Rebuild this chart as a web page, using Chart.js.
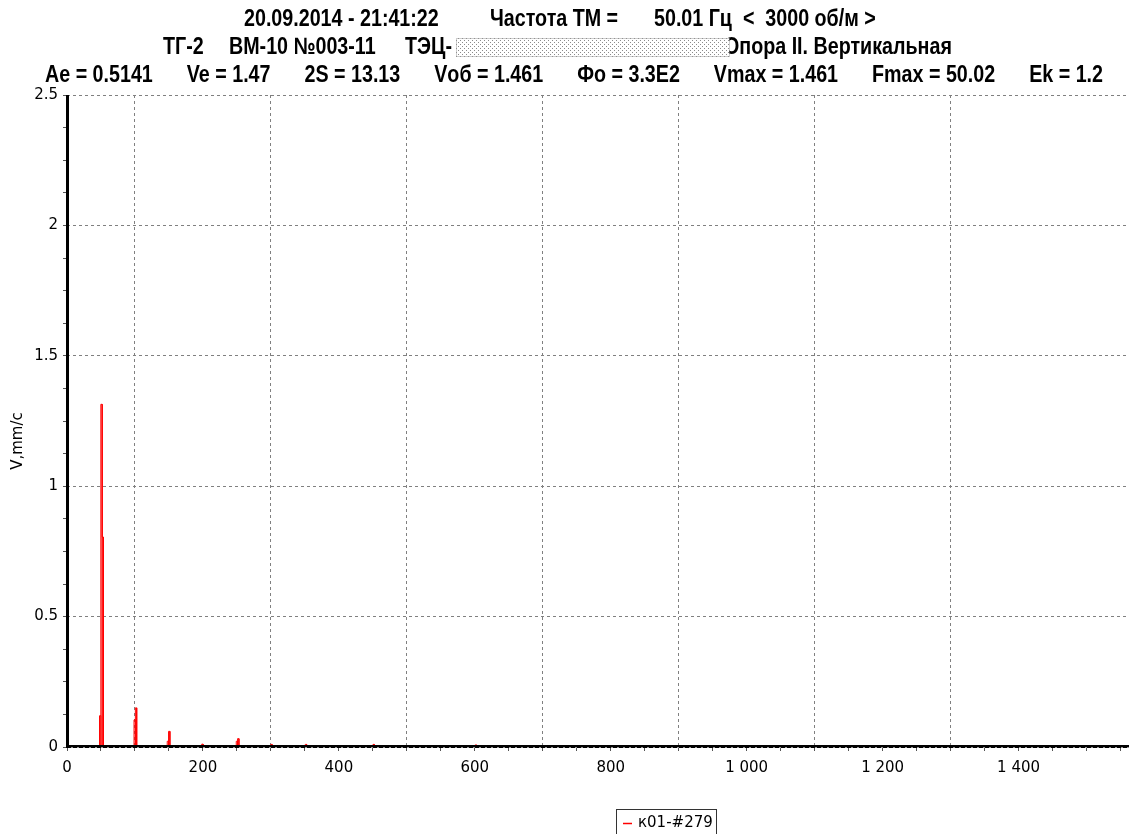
<!DOCTYPE html>
<html>
<head>
<meta charset="utf-8">
<script src="https://cdn.jsdelivr.net/npm/chart.js@4.4.1/dist/chart.umd.min.js"></script>
<style>
  html, body { margin: 0; padding: 0; background: #fff; overflow: hidden; }
  #wrap { position: relative; width: 1129px; height: 834px; }
</style>
</head>
<body>
<div id="wrap"><canvas id="spectrum" width="1129" height="834"></canvas></div>
<script>
// ---- header texts ----
const headerLine1 = ['20.09.2014 - 21:41:22', 'Частота ТМ =', '50.01 Гц  <  3000 об/м >'];
const headerLine2 = ['ТГ-2', 'ВМ-10 №003-11', 'ТЭЦ-', 'Опора II. Вертикальная'];
const headerLine3 = ['Ae = 0.5141', 'Ve = 1.47', '2S = 13.13', 'Vоб = 1.461', 'Фо = 3.3E2', 'Vmax = 1.461', 'Fmax = 50.02', 'Ek = 1.2'];
const seriesName = 'к01-#279';
const yAxisTitle = 'V,mm/c';

// ---- spectrum: nonzero lines (Hz, mm/s) ----
const binWidthHz = 1.953125;
const lineFreqHz = [48.83, 50.78, 52.73, 99.61, 101.56, 148.44, 150.39, 199.22, 250.00, 251.95, 300.78, 351.56, 451.17, 601.56];
const lineAmp    = [0.12,  1.314, 0.805, 0.104, 0.15,   0.022,  0.06,   0.011,  0.022,  0.032,  0.01,   0.01,   0.01,   0.008];

// ---- axis ranges and ticks ----
const freqMaxHz = 1562.5;
const ampMax = 2.5;
const xTickStep = 50;
const xLabelStep = 200;
const xGridValues = [100, 300, 500, 700, 900, 1100, 1300];
const yTickStep = 0.125;
const yLabelStep = 0.5;

// Build the spectrum outline: each line is a narrow column one bin wide.
function spectrumOutline(freqs, amps, width, fMax) {
  const pts = [{ x: 0, y: 0 }];
  freqs.forEach((f, i) => {
    const a = f - width / 2, b = f + width / 2;
    pts.push({ x: a, y: 0 }, { x: a, y: amps[i] }, { x: b, y: amps[i] }, { x: b, y: 0 });
  });
  pts.push({ x: fMax, y: 0 });
  return pts;
}

function fmtThousands(v) {
  if (v >= 1000) return Math.floor(v / 1000) + ' ' + String(v % 1000).padStart(3, '0');
  return String(v);
}

const TICK_FONT = { family: "'DejaVu Sans'", size: 15 };
const HEAD_FONT = "bold 24px 'Liberation Sans', Arial, sans-serif";
const HEAD_CONDENSE = 0.82;   // narrow face

// header placement
const headX1 = [244, 490, 654];
const headX2 = [163, 229, 405, 724];
const head3Left = 45, head3Right = 1103;   // third line is spread between these
const headY = [19, 47, 75];

function makeDotPattern(ctx) {
  const c = document.createElement('canvas');
  c.width = 4; c.height = 4;
  const g = c.getContext('2d');
  g.fillStyle = '#fff'; g.fillRect(0, 0, 4, 4);
  g.fillStyle = '#8a8a8a';
  g.fillRect(0, 0, 1, 1); g.fillRect(2, 2, 1, 1);
  return ctx.createPattern(c, 'repeat');
}

function narrowText(ctx, text, x, y) {
  ctx.save();
  ctx.translate(x, y);
  ctx.scale(HEAD_CONDENSE, 1);
  ctx.fillText(text, 0, 0);
  ctx.restore();
}

const decorations = {
  id: 'decorations',
  afterDatasetsDraw(chart) {
    const ctx = chart.ctx;
    const area = chart.chartArea;
    const xs = chart.scales.x, ys = chart.scales.y;
    const y0 = ys.getPixelForValue(0);
    const xl = xs.getPixelForValue(0);
    ctx.save();
    // thick axes over the data
    ctx.fillStyle = '#000';
    ctx.fillRect(xl - 1, area.top, 3, y0 - area.top + 1);
    ctx.fillRect(xl, y0 - 2, area.right - xl, 3);
    ctx.fillStyle = '#9a9a9a';
    for (let x = xl + 4; x < area.right; x += 6) ctx.fillRect(x, y0, 2, 1);
    ctx.restore();
  },
  afterDraw(chart) {
    const ctx = chart.ctx;
    ctx.save();
    ctx.fillStyle = '#000';
    ctx.font = HEAD_FONT;
    ctx.textBaseline = 'middle';
    ctx.textAlign = 'left';
    headerLine1.forEach((t, i) => narrowText(ctx, t, headX1[i], headY[0]));
    headerLine2.forEach((t, i) => narrowText(ctx, t, headX2[i], headY[1]));
    // third line: equal gaps between the items
    const widths = headerLine3.map(t => ctx.measureText(t).width * HEAD_CONDENSE);
    const total = widths.reduce((s, w) => s + w, 0);
    const gap = (head3Right - head3Left - total) / (headerLine3.length - 1);
    let x = head3Left;
    headerLine3.forEach((t, i) => { narrowText(ctx, t, x, headY[2]); x += widths[i] + gap; });

    // masked block in the second header line
    ctx.fillStyle = makeDotPattern(ctx);
    ctx.fillRect(456, 38, 273, 19);
    ctx.strokeStyle = '#9a9a9a';
    ctx.setLineDash([1, 1]);
    ctx.lineWidth = 1;
    ctx.strokeRect(456.5, 38.5, 273, 18);
    ctx.setLineDash([]);

    // vertical axis title
    ctx.save();
    ctx.translate(18, 441);
    ctx.rotate(-Math.PI / 2);
    ctx.font = "15px 'DejaVu Sans'";
    ctx.fillStyle = '#000';
    ctx.textAlign = 'center';
    ctx.textBaseline = 'middle';
    ctx.fillText(yAxisTitle, 0, 0);
    ctx.restore();

    // legend box
    ctx.fillStyle = '#fff';
    ctx.fillRect(616, 809, 100, 30);
    ctx.strokeStyle = '#333';
    ctx.lineWidth = 1;
    ctx.strokeRect(616.5, 809.5, 100, 30);
    ctx.strokeStyle = chart.data.datasets[0].borderColor;
    ctx.lineWidth = 1.5;
    ctx.beginPath(); ctx.moveTo(623, 823.5); ctx.lineTo(632, 823.5); ctx.stroke();
    ctx.fillStyle = '#000';
    ctx.font = "15px 'DejaVu Sans'";
    ctx.textAlign = 'left';
    ctx.textBaseline = 'middle';
    ctx.fillText(chart.data.datasets[0].label, 638, 823);
    ctx.restore();
  }
};

new Chart(document.getElementById('spectrum'), {
  type: 'scatter',
  data: {
    datasets: [{
      label: seriesName,
      data: spectrumOutline(lineFreqHz, lineAmp, binWidthHz, freqMaxHz),
      showLine: true,
      borderColor: '#ff0000',
      borderWidth: 1,
      pointRadius: 0,
      pointHoverRadius: 0,
      tension: 0
    }]
  },
  options: {
    responsive: false,
    animation: false,
    devicePixelRatio: 1,
    layout: { padding: { top: 95, left: 0, right: 0, bottom: 0 } },
    plugins: { legend: { display: false }, title: { display: false }, tooltip: { enabled: false } },
    scales: {
      x: {
        type: 'linear',
        min: 0,
        max: freqMaxHz,
        afterFit(scale) { scale.height = 87; },
        border: { display: false, dash: [3, 3] },
        grid: {
          color: (c) => (c.tick && xGridValues.includes(c.tick.value)) ? '#808080' : 'rgba(0,0,0,0)',
          tickColor: '#555',
          tickLength: 4,
          tickBorderDash: [],
          drawTicks: true
        },
        ticks: {
          stepSize: xTickStep,
          includeBounds: false,
          autoSkip: false,
          maxRotation: 0,
          padding: 8,
          color: '#000',
          font: TICK_FONT,
          callback: (v) => (v % xLabelStep === 0 ? fmtThousands(v) : '')
        }
      },
      y: {
        type: 'linear',
        min: 0,
        max: ampMax,
        afterFit(scale) { scale.width = 67; },
        border: { display: false, dash: [3, 3] },
        grid: {
          color: (c) => (c.tick && c.tick.value > 0 && Math.abs(c.tick.value / yLabelStep - Math.round(c.tick.value / yLabelStep)) < 1e-9) ? '#808080' : 'rgba(0,0,0,0)',
          tickColor: '#555',
          tickLength: 4,
          tickBorderDash: [],
          drawTicks: true
        },
        ticks: {
          stepSize: yTickStep,
          autoSkip: false,
          padding: 5,
          color: '#000',
          font: TICK_FONT,
          callback: (v) => (Math.abs(v / yLabelStep - Math.round(v / yLabelStep)) < 1e-9 ? String(+v.toFixed(3)) : '')
        }
      }
    }
  },
  plugins: [decorations]
});
</script>
</body>
</html>
